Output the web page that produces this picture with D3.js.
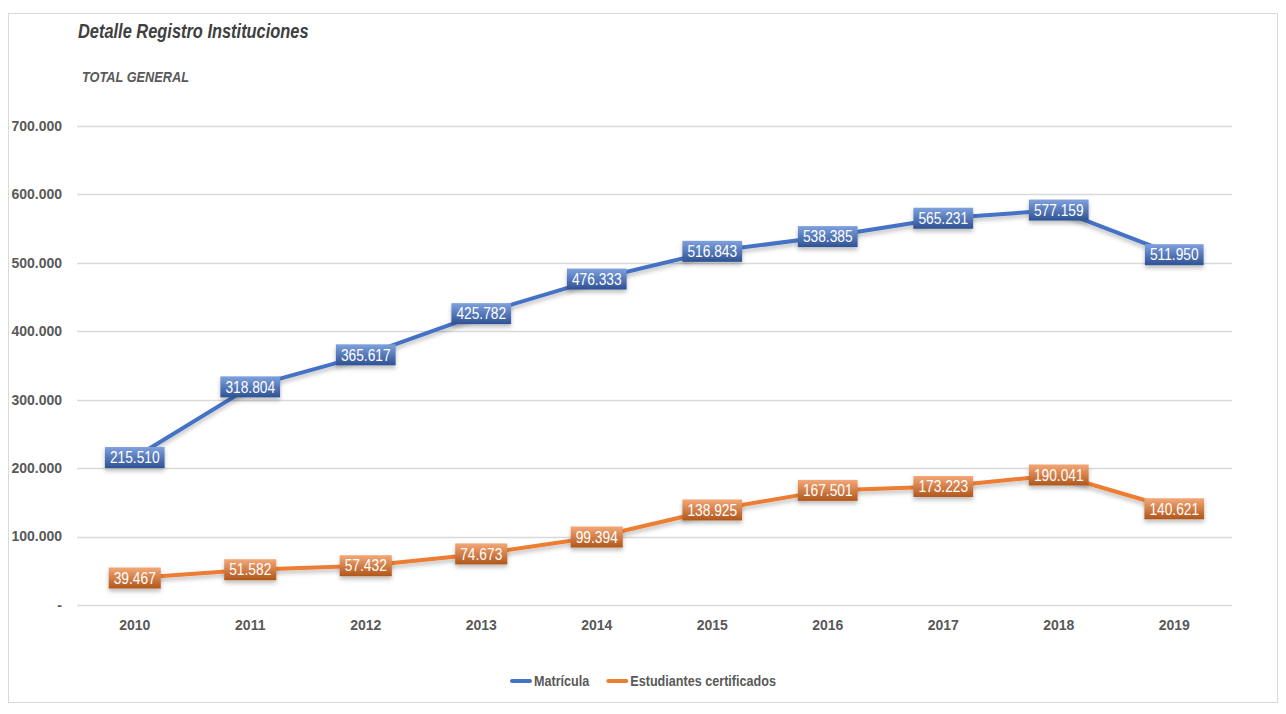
<!DOCTYPE html>
<html>
<head>
<meta charset="utf-8">
<script src="https://cdn.jsdelivr.net/npm/d3@7"></script>
<style>
  body { margin: 0; background: #fff; }
  svg { display: block; }
  text { font-family: 'Liberation Sans', Arial, sans-serif; }
</style>
</head>
<body>
<div id="chart"></div>
<script>
var years = ["2010", "2011", "2012", "2013", "2014", "2015", "2016", "2017", "2018", "2019"];
var matricula = [215510, 318804, 365617, 425782, 476333, 516843, 538385, 565231, 577159, 511950];
var certificados = [39467, 51582, 57432, 74673, 99394, 138925, 167501, 173223, 190041, 140621];
var yTicks = [0, 100000, 200000, 300000, 400000, 500000, 600000, 700000];
var seriesNames = ["Matrícula", "Estudiantes certificados"];

(function() {
var width = 1286, height = 714;
var plotLeft = 77, plotRight = 1232, plotTop = 126, plotBottom = 605;

var svg = d3.select("#chart").append("svg")
  .attr("width", width)
  .attr("height", height);

// squeeze text horizontally, the original uses a narrow face
function narrow(sel, factor) {
  sel.each(function() {
    var len = this.getComputedTextLength();
    d3.select(this).attr("textLength", len * factor).attr("lengthAdjust", "spacingAndGlyphs");
  });
}

var defs = svg.append("defs");

function grad(id, c1, c2) {
  var g = defs.append("linearGradient").attr("id", id)
    .attr("x1", 0).attr("y1", 0).attr("x2", 0).attr("y2", 1);
  g.append("stop").attr("offset", "0%").attr("stop-color", c1);
  g.append("stop").attr("offset", "100%").attr("stop-color", c2);
}
grad("gBlue", "#7fa1de", "#2e5193");
grad("gOrange", "#f4a877", "#b0561a");

var shadow = defs.append("filter").attr("id", "shadow")
  .attr("x", "-10%").attr("y", "-50%").attr("width", "120%").attr("height", "200%");
shadow.append("feDropShadow")
  .attr("dx", 0).attr("dy", 3).attr("stdDeviation", 2)
  .attr("flood-color", "#000").attr("flood-opacity", 0.25);

// outer frame
svg.append("rect")
  .attr("x", 8.5).attr("y", 13.5)
  .attr("width", 1269).attr("height", 689)
  .attr("fill", "#fff").attr("stroke", "#d9d9d9");

svg.append("text")
  .attr("x", 78).attr("y", 38)
  .attr("font-size", 20).attr("font-weight", "bold").attr("font-style", "italic")
  .attr("fill", "#404040")
  .text("Detalle Registro Instituciones")
  .call(narrow, 0.82);

svg.append("text")
  .attr("x", 82).attr("y", 82)
  .attr("font-size", 15).attr("font-weight", "bold").attr("font-style", "italic")
  .attr("fill", "#595959")
  .text("TOTAL GENERAL")
  .call(narrow, 0.85);

var x = d3.scaleBand().domain(years).range([plotLeft, plotRight]);
var y = d3.scaleLinear().domain([0, 700000]).range([plotBottom, plotTop]);

var fmt = function(v) {
  return v === 0 ? "-" : d3.format(",")(v).replace(/,/g, ".");
};

// gridlines
svg.append("g").selectAll("line")
  .data(yTicks)
  .join("line")
  .attr("x1", plotLeft).attr("x2", plotRight)
  .attr("y1", function(d) { return Math.round(y(d)) + 0.5; })
  .attr("y2", function(d) { return Math.round(y(d)) + 0.5; })
  .attr("stroke", "#d9d9d9").attr("stroke-width", 1.5);

svg.append("g").selectAll("text")
  .data(yTicks)
  .join("text")
  .attr("x", 62)
  .attr("y", function(d) { return y(d); })
  .attr("dy", "0.35em")
  .attr("text-anchor", "end")
  .attr("font-size", 14).attr("font-weight", "bold")
  .attr("fill", "#595959")
  .text(fmt);

svg.append("g").selectAll("text")
  .data(years)
  .join("text")
  .attr("x", function(d) { return x(d) + x.bandwidth() / 2; })
  .attr("y", 630)
  .attr("text-anchor", "middle")
  .attr("font-size", 14).attr("font-weight", "bold")
  .attr("fill", "#595959")
  .text(function(d) { return d; });

var series = [
  { name: seriesNames[0], values: matricula, color: "#4472c4", fill: "url(#gBlue)" },
  { name: seriesNames[1], values: certificados, color: "#ed7d31", fill: "url(#gOrange)" }
];

var line = d3.line()
  .x(function(d, i) { return x(years[i]) + x.bandwidth() / 2; })
  .y(function(d) { return y(d); });

series.forEach(function(s) {
  svg.append("path")
    .datum(s.values)
    .attr("d", line)
    .attr("fill", "none")
    .attr("stroke", s.color)
    .attr("stroke-width", 4)
    .attr("stroke-linejoin", "round")
    .attr("filter", "url(#shadow)");
});

series.forEach(function(s) {
  var g = svg.append("g");
  var lab = g.selectAll("g")
    .data(s.values)
    .join("g")
    .attr("transform", function(d, i) {
      return "translate(" + (x(years[i]) + x.bandwidth() / 2) + "," + y(d) + ")";
    });
  var rects = lab.append("rect")
    .attr("y", -10.5)
    .attr("height", 21)
    .attr("fill", s.fill)
    .attr("filter", "url(#shadow)");
  var texts = lab.append("text")
    .attr("dy", "0.36em")
    .attr("text-anchor", "middle")
    .attr("font-size", 16)
    .attr("fill", "#fff")
    .text(fmt)
    .call(narrow, 0.86);
  texts.each(function(d, i) {
    var w = +d3.select(this).attr("textLength") + 10;
    d3.select(rects.nodes()[i]).attr("x", -w / 2).attr("width", w);
  });
});

// legend
var legend = svg.append("g").attr("transform", "translate(511,681)");
var lx = 0;
series.forEach(function(s) {
  legend.append("line")
    .attr("x1", lx + 1).attr("x2", lx + 19)
    .attr("stroke", s.color).attr("stroke-width", 4)
    .attr("stroke-linecap", "round");
  var t = legend.append("text")
    .attr("x", lx + 23).attr("dy", "0.35em")
    .attr("font-size", 15).attr("font-weight", "bold")
    .attr("fill", "#595959")
    .text(s.name)
    .call(narrow, 0.84);
  lx += 23 + +t.attr("textLength") + 18;
});
})();
</script>
</body>
</html>
